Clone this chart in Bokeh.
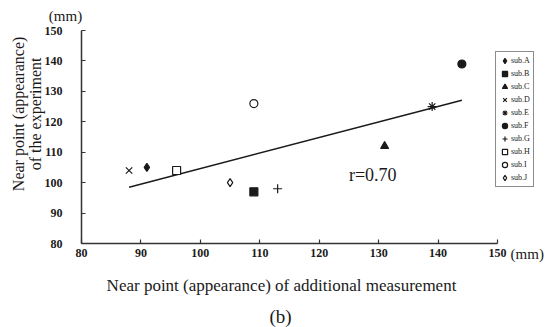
import math
import numpy as np
from bokeh.plotting import figure
from bokeh.models import Range1d, Legend, LegendItem, Label, FixedTicker
from bokeh.embed import file_html
from bokeh.resources import INLINE

subjects = ["sub.A", "sub.B", "sub.C", "sub.D", "sub.E", "sub.F", "sub.G", "sub.H", "sub.I", "sub.J"]
x_vals = [91, 109, 131, 88, 139, 144, 113, 96, 109, 105]
y_vals = [105, 97, 112, 104, 125, 139, 98, 104, 126, 100]
markers = ["diamond", "square", "triangle", "x", "asterisk", "circle", "cross", "square", "circle", "diamond"]
filled = [True, True, True, False, False, True, False, False, False, False]
x_ticks = [80, 90, 100, 110, 120, 130, 140, 150]
y_ticks = [80, 90, 100, 110, 120, 130, 140, 150]
r_text = "r=0.70"
x_title = "Near point (appearance) of additional measurement"
y_title = "Near point (appearance)\nof the experiment"

INK = "#1a1a1a"
SERIF = "Liberation Serif"

p = figure(width=557, height=327, output_backend="svg", toolbar_location=None,
           x_range=Range1d(66.37, 160.09), y_range=Range1d(52.40, 159.86),
           min_border=0)
p.outline_line_color = None
p.xgrid.visible = False
p.ygrid.visible = False
p.background_fill_color = "white"
p.border_fill_color = "white"

for ax, ticks in ((p.xaxis[0], x_ticks), (p.yaxis[0], y_ticks)):
    ax.ticker = FixedTicker(ticks=ticks)
    ax.bounds = (ticks[0], ticks[-1])
    ax.fixed_location = 80
    ax.axis_line_color = "#333333"
    ax.axis_line_width = 1.5
    ax.major_tick_line_color = "#333333"
    ax.major_tick_line_width = 1.2
    ax.major_tick_in = 4
    ax.major_tick_out = 0
    ax.minor_tick_line_color = None
    ax.major_label_text_font = SERIF
    ax.major_label_text_font_style = "bold"
    ax.major_label_text_font_size = "12px"
    ax.major_label_text_color = INK

p.xaxis.major_label_standoff = 5
p.yaxis.major_label_standoff = 19

# axis titles, placed like the original (offset from the axis centres)
p.add_layout(Label(x=113.65, y=66.2, text=x_title, text_font=SERIF, text_font_size="17px",
                   text_color=INK, text_baseline="middle", text_align="center"))
p.add_layout(Label(x=70.9, y=122.6, text=y_title, text_font=SERIF, text_font_size="16px",
                   text_color=INK, text_baseline="middle", text_align="center",
                   angle=math.pi / 2, text_line_height=1.0))

# regression line (least-squares fit of the points)
slope, intercept = np.polyfit(x_vals, y_vals, 1)
lx = [min(x_vals), max(x_vals)]
ly = [slope * v + intercept for v in lx]
p.line(lx, ly, line_color=INK, line_width=1.5)

items = []
for i, name in enumerate(subjects):
    fc = INK if filled[i] else "white"
    size = 8 if markers[i] not in ("x", "asterisk", "cross") else 9
    r = p.scatter([x_vals[i]], [y_vals[i]], marker=markers[i], size=size,
                  line_color=INK, fill_color=fc, line_width=1.2)
    items.append(LegendItem(label=name, renderers=[r]))

legend = Legend(items=items, location=(495, 140), orientation="vertical",
                label_text_font=SERIF, label_text_font_size="8px", label_text_color=INK,
                glyph_width=13, glyph_height=13, label_height=13, label_standoff=0,
                spacing=-4, padding=2, margin=0,
                border_line_color=INK, border_line_width=1,
                background_fill_color="white", background_fill_alpha=1.0)
p.add_layout(legend, "center")

p.add_layout(Label(x=125, y=102.4, text=r_text, text_font=SERIF, text_font_size="18px",
                   text_color=INK, text_baseline="middle", text_align="left"))
p.add_layout(Label(x=77.3, y=154.9, text="(mm)", text_font=SERIF, text_font_size="15px",
                   text_color=INK, text_baseline="middle", text_align="center"))
p.add_layout(Label(x=152.2, y=76.7, text="(mm)", text_font=SERIF, text_font_size="15px",
                   text_color=INK, text_baseline="middle", text_align="left"))
p.add_layout(Label(x=113.5, y=56, text="(b)", text_font=SERIF, text_font_size="19px",
                   text_color=INK, text_baseline="middle", text_align="center"))

open("out.html", "w").write(file_html(p, INLINE))
